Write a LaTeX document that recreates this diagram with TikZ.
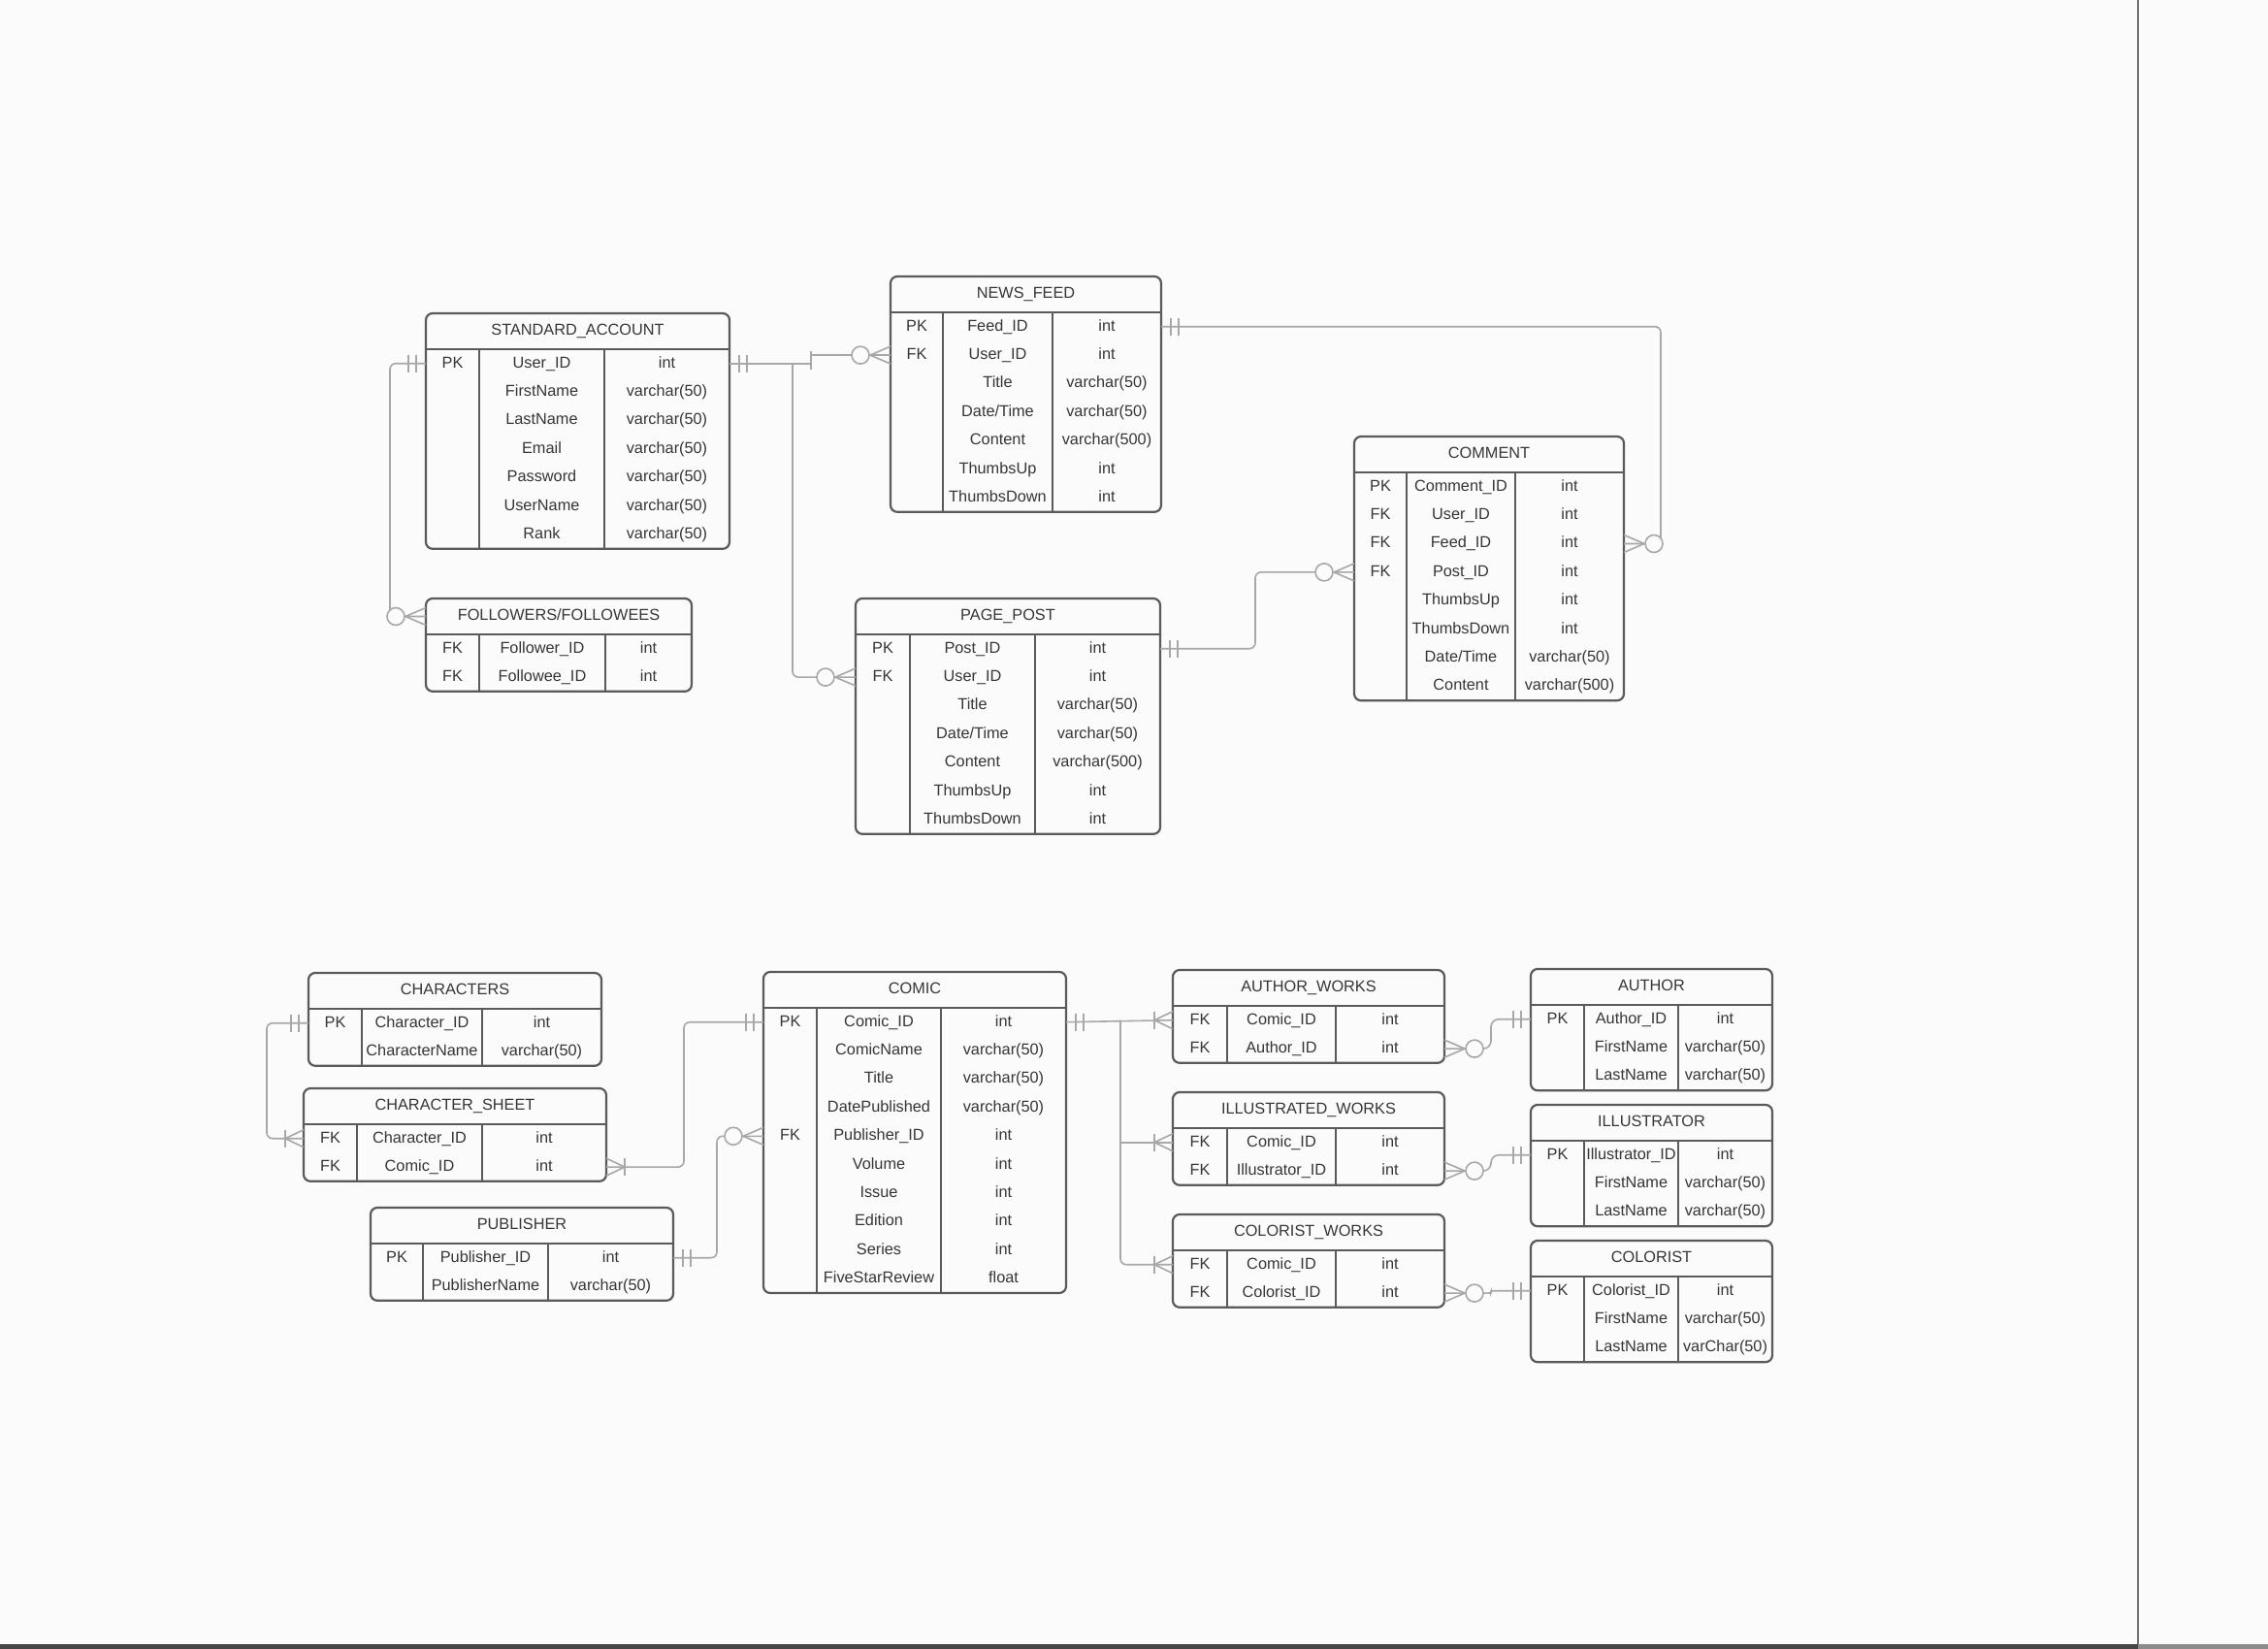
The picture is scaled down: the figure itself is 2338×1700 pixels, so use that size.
\documentclass[tikz,border=0pt]{standalone}
\usepackage{fontspec}
\setmainfont{Liberation Sans}
\usetikzlibrary{calc}
\definecolor{bg}{HTML}{FBFBFB}
\definecolor{boxc}{HTML}{5A5A5A}
\definecolor{txtc}{HTML}{363636}
\definecolor{linec}{HTML}{A8A8A8}
\newcommand{\erfont}{\fontsize{16.3}{19}\selectfont}
\tikzset{
  tbox/.style={draw=boxc, line width=2.2pt, rounded corners=7pt, fill=bg, inner sep=0pt, outer sep=0pt},
  tline/.style={draw=boxc, line width=2.2pt},
  ttext/.style={text=txtc, font=\erfont, inner sep=0pt, text height=11.7pt, text depth=0pt},
  cline/.style={draw=linec, line width=1.6pt},
}
% #1 name #2 left #3 top #4 col1 #5 col2 #6 right #7 rows #8 title #9 row list
\newcommand{\ertable}[9]{%
  \pgfmathsetmacro\tbhd{#3+37}%
  \pgfmathsetmacro\tbbt{#3+37+#7*29.4}%
  \pgfmathsetmacro\tbw{#6-#2}%
  \pgfmathsetmacro\tbht{37+#7*29.4}%
  \node[tbox, minimum width=\tbw pt, minimum height=\tbht pt, anchor=north west] (#1) at (#2,#3) {};
  \draw[tline] (#2,\tbhd) -- (#6,\tbhd);
  \draw[tline] (#4,\tbhd) -- (#4,\tbbt);
  \draw[tline] (#5,\tbhd) -- (#5,\tbbt);
  \node[ttext] (#1-title) at ({(#2+#6)/2},{#3+17}) {#8};
  \coordinate (#1-tw) at (#2,{#3+18.5});
  \foreach \rk/\rn/\rt [count=\ri] in {#9} {
    \pgfmathsetmacro\ry{\tbhd+14.7+(\ri-1)*29.4}
    \pgfmathsetmacro\ty{\ry-1.5}
    \node[ttext] (#1-k\ri) at ({(#2+#4)/2},\ty) {\rk};
    \node[ttext] (#1-n\ri) at ({(#4+#5)/2},\ty) {\rn};
    \node[ttext] (#1-t\ri) at ({(#5+#6)/2},\ty) {\rt};
    \coordinate (#1-w\ri) at (#2,\ry);
    \coordinate (#1-e\ri) at (#6,\ry);
  }
}
% marks: #1 coordinate on the box edge, #2 direction (+1 right, -1 left)
\newcommand{\mone}[2]{%
  \draw[cline] ($(#1)+(#2*10,-9)$) -- ($(#1)+(#2*10,9)$);
  \draw[cline] ($(#1)+(#2*18,-9)$) -- ($(#1)+(#2*18,9)$);
}
\newcommand{\mzmany}[2]{%
  \draw[cline] ($(#1)+(#2*21,0)$) -- ($(#1)+(0,-9)$);
  \draw[cline] ($(#1)+(#2*21,0)$) -- ($(#1)+(0,9)$);
  \draw[cline, fill=bg] ($(#1)+(#2*31,0)$) circle[radius=9pt];
}
\newcommand{\monemany}[2]{%
  \draw[cline] ($(#1)+(#2*19,-9)$) -- ($(#1)+(#2*19,9)$);
  \draw[cline] ($(#1)+(#2*19,0)$) -- ($(#1)+(0,-9)$);
  \draw[cline] ($(#1)+(#2*19,0)$) -- ($(#1)+(0,9)$);
}
\begin{document}
\begin{tikzpicture}[x=1pt,y=-1pt]
\useasboundingbox (0,0) rectangle (2338,1700);
\fill[bg] (0,0) rectangle (2338,1700);
\draw[color=black!55, line width=1.5pt] (2204,0) -- (2204,1695);
\fill[black!72] (0,1695) rectangle (2204,1700);
\fill[black!45] (2204,1695) rectangle (2338,1700);

% ---------- tables ----------
\ertable{SA}{439}{323}{494}{623}{752}{7}{STANDARD\_ACCOUNT}{PK/User\_ID/int, /FirstName/varchar(50), /LastName/varchar(50), /Email/varchar(50), /Password/varchar(50), /UserName/varchar(50), /Rank/varchar(50)}
\ertable{NF}{918}{285}{972}{1085}{1197}{7}{NEWS\_FEED}{PK/Feed\_ID/int, FK/User\_ID/int, /Title/varchar(50), /{Date/Time}/varchar(50), /Content/varchar(500), /ThumbsUp/int, /ThumbsDown/int}
\ertable{FF}{439}{617}{494}{624}{713}{2}{FOLLOWERS/FOLLOWEES}{FK/Follower\_ID/int, FK/Followee\_ID/int}
\ertable{PP}{882}{617}{938}{1067}{1196}{7}{PAGE\_POST}{PK/Post\_ID/int, FK/User\_ID/int, /Title/varchar(50), /{Date/Time}/varchar(50), /Content/varchar(500), /ThumbsUp/int, /ThumbsDown/int}
\ertable{CM}{1396}{450}{1450}{1562}{1674}{8}{COMMENT}{PK/Comment\_ID/int, FK/User\_ID/int, FK/Feed\_ID/int, FK/Post\_ID/int, /ThumbsUp/int, /ThumbsDown/int, /{Date/Time}/varchar(50), /Content/varchar(500)}
\ertable{CH}{318}{1003}{373}{497}{620}{2}{CHARACTERS}{PK/Character\_ID/int, /CharacterName/varchar(50)}
\ertable{CS}{313}{1122}{368}{497}{625}{2}{CHARACTER\_SHEET}{FK/Character\_ID/int, FK/Comic\_ID/int}
\ertable{PB}{382}{1245}{436}{565}{694}{2}{PUBLISHER}{PK/Publisher\_ID/int, /PublisherName/varchar(50)}
\ertable{CO}{787}{1002}{842}{970}{1099}{10}{COMIC}{PK/Comic\_ID/int, /ComicName/varchar(50), /Title/varchar(50), /DatePublished/varchar(50), FK/Publisher\_ID/int, /Volume/int, /Issue/int, /Edition/int, /Series/int, /FiveStarReview/float}
\ertable{AW}{1209}{1000}{1265}{1377}{1489}{2}{AUTHOR\_WORKS}{FK/Comic\_ID/int, FK/Author\_ID/int}
\ertable{IW}{1209}{1126}{1265}{1377}{1489}{2}{ILLUSTRATED\_WORKS}{FK/Comic\_ID/int, FK/Illustrator\_ID/int}
\ertable{CW}{1209}{1252}{1265}{1377}{1489}{2}{COLORIST\_WORKS}{FK/Comic\_ID/int, FK/Colorist\_ID/int}
\ertable{AU}{1578}{999}{1633}{1730}{1827}{3}{AUTHOR}{PK/Author\_ID/int, /FirstName/varchar(50), /LastName/varchar(50)}
\ertable{IL}{1578}{1139}{1633}{1730}{1827}{3}{ILLUSTRATOR}{PK/Illustrator\_ID/int, /FirstName/varchar(50), /LastName/varchar(50)}
\ertable{CL}{1578}{1279}{1633}{1730}{1827}{3}{COLORIST}{PK/Colorist\_ID/int, /FirstName/varchar(50), /LastName/varChar(50)}

% ---------- helper coordinates ----------
\coordinate (jog) at (836,0);
\coordinate (br1) at (817,0);
\coordinate (lf) at (402,0);
\coordinate (rc) at (1712,0);
\coordinate (pc) at (1294,0);
\coordinate (cl) at (275,0);
\coordinate (cm) at (705,0);
\coordinate (pm) at (739,0);
\coordinate (wb) at (1155,0);
\coordinate (pa) at (1537,0);

% ---------- upper connectors ----------
\draw[cline] (SA-e1) -- (SA-e1 -| jog) -- (NF-w2 -| jog) -- (NF-w2);
\draw[cline] ($(SA-e1 -| jog)+(0,6)$) -- ($(NF-w2 -| jog)+(0,-4)$);
\mone{SA-e1}{1}
\mzmany{NF-w2}{-1}

\draw[cline, rounded corners=6pt] (SA-e1 -| br1) -- (PP-w2 -| br1) -- (PP-w2);
\mzmany{PP-w2}{-1}

\draw[cline, rounded corners=6pt] (SA-w1) -- (SA-w1 -| lf) -- (FF-tw -| lf) -- (FF-tw);
\mone{SA-w1}{-1}
\mzmany{FF-tw}{-1}

\draw[cline, rounded corners=6pt] (NF-e1) -- (NF-e1 -| rc) -- (CM-e3 -| rc) -- (CM-e3);
\mone{NF-e1}{1}
\mzmany{CM-e3}{1}

\draw[cline, rounded corners=6pt] (PP-e1) -- (PP-e1 -| pc) -- (CM-w4 -| pc) -- (CM-w4);
\mone{PP-e1}{1}
\mzmany{CM-w4}{-1}

% ---------- lower connectors ----------
\draw[cline, rounded corners=6pt] (CH-w1) -- (CH-w1 -| cl) -- (CS-w1 -| cl) -- (CS-w1);
\mone{CH-w1}{-1}
\monemany{CS-w1}{-1}

\draw[cline, rounded corners=6pt] (CS-e2) -- (CS-e2 -| cm) -- (CO-w1 -| cm) -- (CO-w1);
\monemany{CS-e2}{1}
\mone{CO-w1}{-1}

\draw[cline, rounded corners=6pt] (PB-e1) -- (PB-e1 -| pm) -- (CO-w5 -| pm) -- (CO-w5);
\mone{PB-e1}{1}
\mzmany{CO-w5}{-1}

\draw[cline] (CO-e1) -- (AW-w1);
\draw[cline, rounded corners=6pt] (AW-w1 -| wb) -- (CW-w1 -| wb) -- (CW-w1);
\draw[cline] (IW-w1 -| wb) -- (IW-w1);
\mone{CO-e1}{1}
\monemany{AW-w1}{-1}
\monemany{IW-w1}{-1}
\monemany{CW-w1}{-1}

\draw[cline, rounded corners=8pt] (AW-e2) -- (AW-e2 -| pa) -- (AU-w1 -| pa) -- (AU-w1);
\mzmany{AW-e2}{1}
\mone{AU-w1}{-1}

\draw[cline, rounded corners=8pt] (IW-e2) -- (IW-e2 -| pa) -- (IL-w1 -| pa) -- (IL-w1);
\mzmany{IW-e2}{1}
\mone{IL-w1}{-1}

\draw[cline, rounded corners=2pt] (CW-e2) -- (CW-e2 -| pa) -- (CL-w1 -| pa) -- (CL-w1);
\mzmany{CW-e2}{1}
\mone{CL-w1}{-1}
\end{tikzpicture}
\end{document}
